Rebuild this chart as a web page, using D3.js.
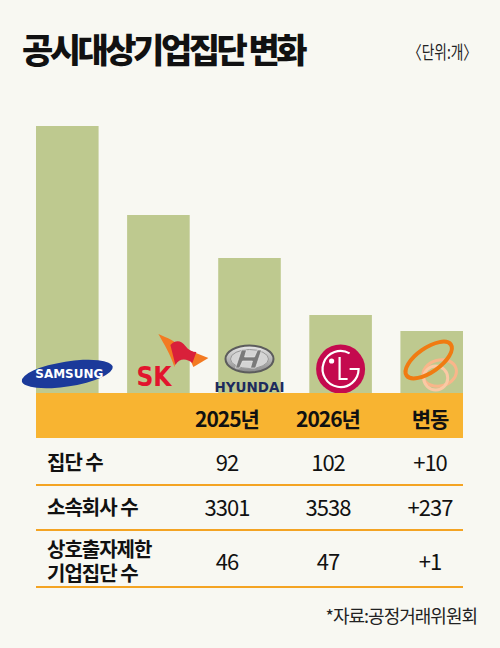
<!DOCTYPE html>
<html>
<head>
<meta charset="utf-8">
<script src="https://cdn.jsdelivr.net/npm/d3@7"></script>
<style>
  html, body { margin: 0; padding: 0; background: #f8f8f2; }
  svg { display: block; font-family: "Noto Sans CJK KR", "Noto Sans", sans-serif; }
</style>
</head>
<body>
<svg id="chart" width="500" height="648"></svg>
<script>
// top 5 groups, bars are only relative sizes
var groups = ["삼성", "SK", "현대자동차", "LG", "한화"];
var barValues = [267, 178, 135, 78, 62];

var colHeads = ["2025년", "2026년", "변동"];
var rowLabels = [["집단 수"], ["소속회사 수"], ["상호출자제한", "기업집단 수"]];
var values2025 = ["92", "3301", "46"];
var values2026 = ["102", "3538", "47"];
var changes = ["+10", "+237", "+1"];

var bg = "#f8f8f2", barColor = "#bec98f", bandColor = "#f8b431", lineColor = "#f4a423";

var svg = d3.select("#chart");
var left = 36, right = 463, base = 393, barTop = 126;

svg.append("rect").attr("width", 500).attr("height", 648).attr("fill", bg);

// title + unit
svg.append("text")
    .attr("x", 22).attr("y", 48)
    .attr("dominant-baseline", "central")
    .style("font-size", "34px").style("font-weight", 900)
    .style("letter-spacing", "-3.5px")
    .attr("fill", "#111")
    .text("공시대상기업집단 변화");
svg.append("text")
    .attr("x", 477).attr("y", 51)
    .attr("dominant-baseline", "central").attr("text-anchor", "end")
    .style("font-size", "18px")
    .attr("textLength", 69).attr("lengthAdjust", "spacingAndGlyphs")
    .attr("fill", "#222")
    .text("〈단위:개〉");

var x = d3.scaleBand().domain(groups).range([left, right]).paddingInner(0.313).paddingOuter(0);
var y = d3.scaleLinear().domain([0, d3.max(barValues)]).range([base, barTop]);

svg.append("g").selectAll("rect")
    .data(groups)
    .join("rect")
    .attr("x", d => x(d))
    .attr("y", (d, i) => y(barValues[i]))
    .attr("width", x.bandwidth())
    .attr("height", (d, i) => base - y(barValues[i]))
    .attr("fill", barColor);

// logos, drawn roughly
function cx(name) { return x(name) + x.bandwidth() / 2; }

// samsung
var g = svg.append("g").attr("transform", "translate(" + cx("삼성") + ",374)");
g.append("ellipse").attr("rx", 46).attr("ry", 12.5).attr("transform", "rotate(-9)").attr("fill", "#1b3a9a");
g.append("text").attr("x", 2).attr("y", 0).attr("dominant-baseline", "central").attr("text-anchor", "middle")
    .style("font-family", "'DejaVu Sans', sans-serif").style("font-weight", 700).style("font-size", "12px")
    .attr("textLength", 68).attr("lengthAdjust", "spacingAndGlyphs")
    .attr("fill", "#fff").text("SAMSUNG");

// sk
g = svg.append("g").attr("transform", "translate(" + cx("SK") + ",0)");
g.append("text").attr("x", -22).attr("y", 386)
    .style("font-family", "'DejaVu Sans', sans-serif").style("font-weight", 700).style("font-size", "26px")
    .attr("textLength", 35).attr("lengthAdjust", "spacingAndGlyphs")
    .attr("fill", "#e2142d").text("SK");
g.append("path").attr("fill", "#f37a22")
    .attr("d", "M0,334 C9,338 18,341 20,347 L16,367 C12,354 6,345 0,334Z");
g.append("path").attr("fill", "#f37a22")
    .attr("d", "M30,350 L50,358 L35,367 C32,361 31,356 30,350Z");
g.append("path").attr("fill", "#d9203a")
    .attr("d", "M12,345 C18,339 23,341 27,346 C30,350 34,352 38,352 L34,363 C28,358 21,358 17,365 Z");

// hyundai
g = svg.append("g").attr("transform", "translate(" + cx("현대자동차") + ",0)");
var grad = svg.append("defs").append("linearGradient").attr("id", "silver").attr("x1", 0).attr("y1", 0).attr("x2", 0).attr("y2", 1);
grad.append("stop").attr("offset", 0).attr("stop-color", "#e8e8e8");
grad.append("stop").attr("offset", 1).attr("stop-color", "#8a8a8a");
g.append("ellipse").attr("cx", 0).attr("cy", 359).attr("rx", 24).attr("ry", 13.5)
    .attr("fill", "url(#silver)").attr("stroke", "#5c5c5c").attr("stroke-width", 2);
g.append("ellipse").attr("cx", 0).attr("cy", 359).attr("rx", 19).attr("ry", 9.5)
    .attr("fill", "#d4d4d4").attr("stroke", "#9a9a9a").attr("stroke-width", 1);
g.append("path").attr("fill", "#7a7a7a").attr("stroke", "#eee").attr("stroke-width", 0.6)
    .attr("d", "M-8,350 L-3,350 L-5,357 L5,357 L8,350 L12,350 L6,368 L1,368 L3,361 L-7,361 L-10,368 L-14,368Z");
g.append("text").attr("x", 0).attr("y", 392).attr("text-anchor", "middle")
    .style("font-family", "'DejaVu Sans', sans-serif").style("font-weight", 700).style("font-size", "14px")
    .attr("textLength", 70).attr("lengthAdjust", "spacingAndGlyphs")
    .attr("fill", "#1d2b5e").text("HYUNDAI");

// lg
g = svg.append("g").attr("transform", "translate(" + cx("LG") + ",369)");
g.append("circle").attr("r", 24.5).attr("fill", "#c40a4e");
var arc = d3.path();
arc.arc(0, 0, 18, -Math.PI / 3, 0, true);
arc.lineTo(9, 0);
g.append("path").attr("d", arc.toString()).attr("fill", "none").attr("stroke", "#fff").attr("stroke-width", 2.2);
g.append("path").attr("d", "M-1,-12 L-1,10 L7,10").attr("fill", "none").attr("stroke", "#fff").attr("stroke-width", 2.2);
g.append("circle").attr("cx", -9).attr("cy", -8).attr("r", 2.6).attr("fill", "#fff");

// hanwha
g = svg.append("g").attr("transform", "translate(" + cx("한화") + ",0)");
g.append("ellipse").attr("cx", 8).attr("cy", 373).attr("rx", 17).attr("ry", 13).attr("transform", "rotate(-15,8,373)")
    .attr("fill", "none").attr("stroke", "#f9b68a").attr("stroke-width", 3);
g.append("circle").attr("cx", 4).attr("cy", 378).attr("r", 12)
    .attr("fill", "none").attr("stroke", "#fbc9a4").attr("stroke-width", 3);
g.append("ellipse").attr("cx", -3).attr("cy", 360).attr("rx", 27).attr("ry", 12).attr("transform", "rotate(-35,-3,360)")
    .attr("fill", "none").attr("stroke", "#f07b12").attr("stroke-width", 4);

// table
var cols = d3.scaleOrdinal().domain(colHeads).range([227, 328, 430]);
svg.append("rect").attr("x", left).attr("y", base).attr("width", right - left).attr("height", 45).attr("fill", bandColor);
svg.append("g").selectAll("text")
    .data(colHeads)
    .join("text")
    .attr("x", d => cols(d)).attr("y", 418)
    .attr("text-anchor", "middle").attr("dominant-baseline", "central")
    .style("font-size", "21px").style("font-weight", 700).style("letter-spacing", "-1px")
    .attr("fill", "#111")
    .text(d => d);

var rowY = [461, 506, 560];
var lineY = [485, 530, 587];

svg.append("g").selectAll("line")
    .data(lineY)
    .join("line")
    .attr("x1", left).attr("x2", right)
    .attr("y1", d => d).attr("y2", d => d)
    .attr("stroke", lineColor).attr("stroke-width", 2);

rowLabels.forEach(function (lab, i) {
    var t = svg.append("text")
        .attr("y", rowY[i] - (lab.length - 1) * 12)
        .attr("dominant-baseline", "central")
        .style("font-size", "20px").style("font-weight", 700).style("letter-spacing", "-1px")
        .attr("fill", "#111");
    lab.forEach(function (s, j) {
        t.append("tspan").attr("x", 47).attr("dy", j ? 24 : 0).text(s);
    });
    [values2025[i], values2026[i], changes[i]].forEach(function (v, k) {
        svg.append("text")
            .attr("x", cols(colHeads[k])).attr("y", rowY[i])
            .attr("text-anchor", "middle").attr("dominant-baseline", "central")
            .style("font-size", "22px").style("letter-spacing", "-1px")
            .attr("fill", "#111")
            .text(v);
    });
});

svg.append("text")
    .attr("x", 477).attr("y", 615)
    .attr("text-anchor", "end").attr("dominant-baseline", "central")
    .style("font-size", "18px").style("letter-spacing", "-1px")
    .attr("fill", "#222")
    .text("*자료:공정거래위원회");
</script>
</body>
</html>
